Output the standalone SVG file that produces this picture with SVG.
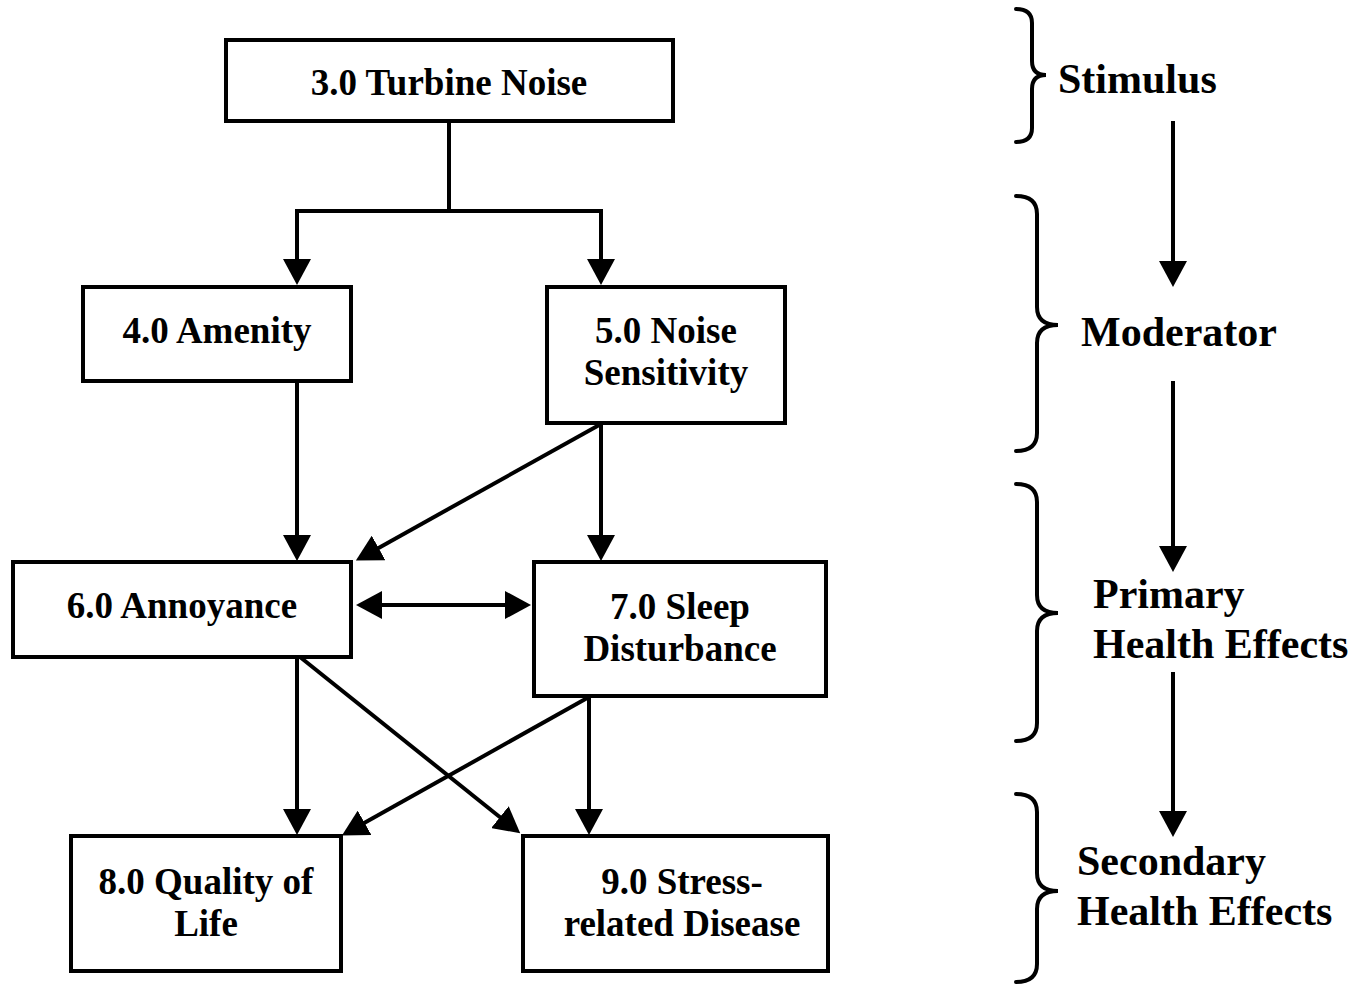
<svg xmlns="http://www.w3.org/2000/svg" width="1368" height="986" viewBox="0 0 1368 986">
<style>
.box{fill:#fff;stroke:#000;stroke-width:4}
.t{font-family:"Liberation Serif","Times New Roman",serif;font-weight:bold;font-size:37px;fill:#000;text-anchor:middle}
.lbl{font-family:"Liberation Serif","Times New Roman",serif;font-weight:bold;font-size:42px;fill:#000}
.c{fill:none;stroke:#000;stroke-width:4}
.ar{marker-end:url(#ah)}
.br{fill:none;stroke:#000;stroke-width:4;stroke-linecap:round}
</style>
<defs>
<marker id="ah" viewBox="0 0 26 28" refX="1" refY="14" markerWidth="26" markerHeight="28" markerUnits="userSpaceOnUse" orient="auto-start-reverse">
<path d="M0,0 L26,14 L0,28 Z" fill="#000"/>
</marker>
</defs>
<rect width="1368" height="986" fill="#fff"/>
<g id="connectors">
<path class="c" d="M449,121 V211"/>
<path class="c" d="M297,260 V211 H601 V260" marker-start="url(#ah)" marker-end="url(#ah)"/>
<path class="c ar" d="M297,381 V536"/>
<path class="c ar" d="M601,424 V536"/>
<path class="c ar" d="M601,424 L377.7,548.4"/>
<path class="c" d="M381,605 H506" marker-start="url(#ah)" marker-end="url(#ah)"/>
<path class="c ar" d="M297,657 V810"/>
<path class="c ar" d="M300,657 L500.7,817.7"/>
<path class="c ar" d="M589,697 L363.7,823.3"/>
<path class="c ar" d="M589,697 V810"/>
<path class="c ar" d="M1173,121 V262"/>
<path class="c ar" d="M1173,381 V547"/>
<path class="c ar" d="M1173,672 V812"/>
</g>
<g id="n3">
<rect class="box" x="226" y="40" width="447" height="81"/>
<text class="t" x="449" y="95">3.0 Turbine Noise</text>
</g>
<g id="n4">
<rect class="box" x="83" y="287" width="268" height="94"/>
<text class="t" x="217" y="343">4.0 Amenity</text>
</g>
<g id="n5">
<rect class="box" x="547" y="287" width="238" height="136"/>
<text class="t" x="666" y="343">5.0 Noise</text>
<text class="t" x="666" y="385">Sensitivity</text>
</g>
<g id="n6">
<rect class="box" x="13" y="562" width="338" height="95"/>
<text class="t" x="182" y="618">6.0 Annoyance</text>
</g>
<g id="n7">
<rect class="box" x="534" y="562" width="292" height="134"/>
<text class="t" x="680" y="619">7.0 Sleep</text>
<text class="t" x="680" y="661">Disturbance</text>
</g>
<g id="n8">
<rect class="box" x="71" y="836" width="270" height="135"/>
<text class="t" x="206" y="894">8.0 Quality of</text>
<text class="t" x="206" y="936">Life</text>
</g>
<g id="n9">
<rect class="box" x="523" y="836" width="305" height="135"/>
<text class="t" x="682" y="894">9.0 Stress-</text>
<text class="t" x="682" y="936">related Disease</text>
</g>
<g id="stimulus">
<path class="br" d="M1016,9 Q1032,9 1032,23 V61 Q1032,75 1046,75 Q1032,75 1032,89 V128 Q1032,142 1016,142"/>
<text class="lbl" x="1058" y="93">Stimulus</text>
</g>
<g id="moderator">
<path class="br" d="M1016,196 Q1037,196 1037,214 V307 Q1037,325 1058,325 Q1037,325 1037,343 V433 Q1037,451 1016,451"/>
<text class="lbl" x="1081" y="346">Moderator</text>
</g>
<g id="primary">
<path class="br" d="M1016,484 Q1037,484 1037,502 V595 Q1037,613 1058,613 Q1037,613 1037,631 V723 Q1037,741 1016,741"/>
<text class="lbl" x="1093" y="608">Primary</text>
<text class="lbl" x="1093" y="658">Health Effects</text>
</g>
<g id="secondary">
<path class="br" d="M1016,794 Q1037,794 1037,812 V873 Q1037,891 1058,891 Q1037,891 1037,909 V964 Q1037,982 1016,982"/>
<text class="lbl" x="1077" y="875">Secondary</text>
<text class="lbl" x="1077" y="925">Health Effects</text>
</g>
</svg>
